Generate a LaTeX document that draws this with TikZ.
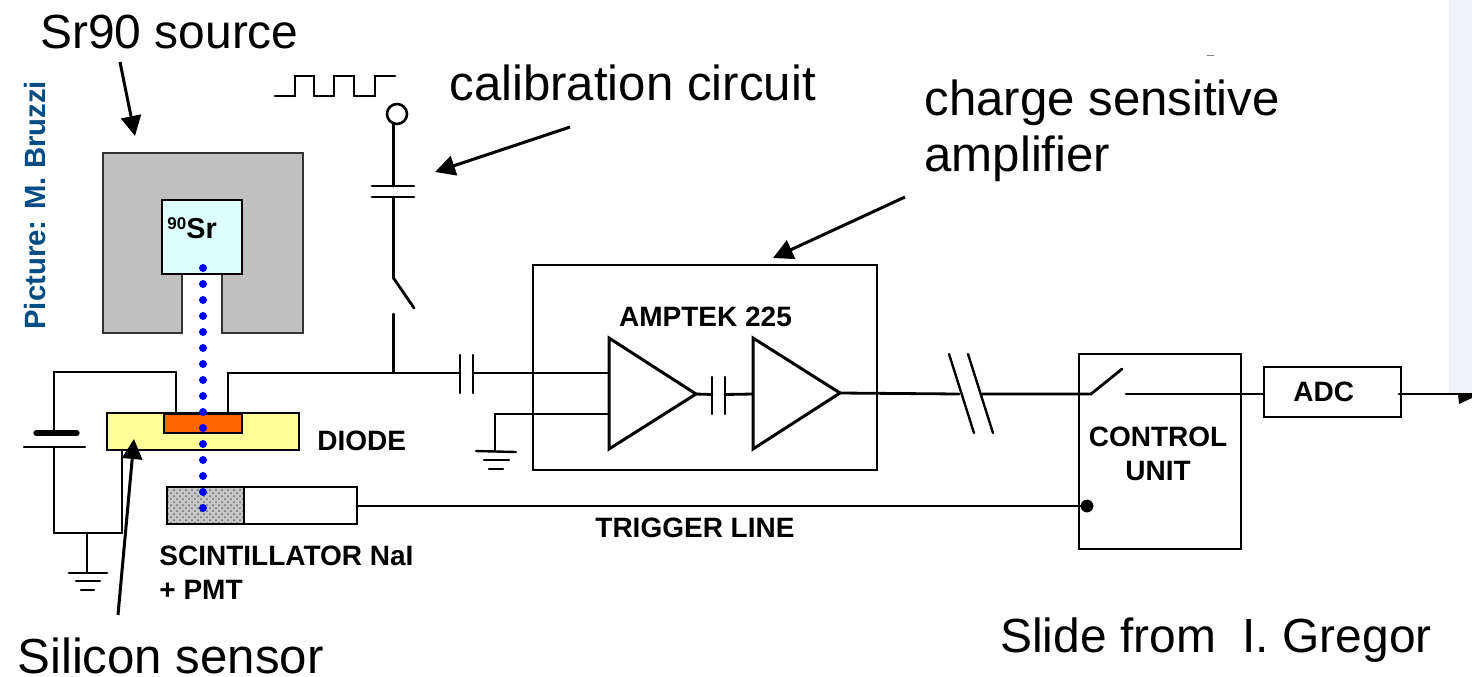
\documentclass[tikz,border=0pt]{standalone}
\usepackage{fontspec}
\setmainfont{Liberation Sans}
\usetikzlibrary{arrows.meta,patterns}
\definecolor{panel}{HTML}{F0F1F7}
\definecolor{shield}{HTML}{C0C0C0}
\definecolor{srcfill}{HTML}{DDFFFF}
\definecolor{diodefill}{HTML}{FFFF99}
\definecolor{implant}{HTML}{FF6600}
\definecolor{credit}{HTML}{004C84}
\tikzset{
  wire/.style={draw=black,line width=1.4pt,line cap=round,line join=miter},
  boxnode/.style={draw=black,line width=1.35pt,inner sep=0pt,outer sep=0pt},
  big/.style={inner sep=0pt,anchor=base west,font=\fontsize{24.6pt}{27pt}\selectfont,text=black},
  bigb/.style={inner sep=0pt,anchor=base west,font=\fontsize{23.95pt}{27pt}\selectfont,text=black},
  lab/.style={inner sep=0pt,anchor=base west,font=\fontsize{14pt}{16pt}\selectfont\bfseries,text=black},
  labc/.style={inner sep=0pt,anchor=base,font=\fontsize{14pt}{16pt}\selectfont\bfseries,text=black},
  pointer/.style={draw=black,line width=1.5pt,-{Triangle[length=10pt,width=10pt]}},
  beamdot/.style={circle,fill=blue,inner sep=0pt,minimum size=4pt},
  bar/.style={draw=black,line width=1.2pt,line cap=round},
  amp/.style={draw=black,line width=1.5pt,line join=miter}
}
\begin{document}
\begin{tikzpicture}[x=0.5pt,y=-0.5pt]
\useasboundingbox (0,0) rectangle (1472,676);
\fill[white] (0,0) rectangle (1472,676);
\fill[panel] (1449,0) rectangle (1472,394);
\draw[gray,line width=0.5pt] (1207,55) -- (1214,55);

% source and shield
\draw[fill=shield,draw=black!80,line width=1.35pt] (103,153) -- (303,153) -- (303,333) -- (222,333) -- (222,274) -- (182,274) -- (182,333) -- (103,333) -- cycle;
\node[boxnode,fill=srcfill,minimum width=40pt,minimum height=37pt] (src) at (202,237) {};
\node[inner sep=0pt,anchor=base west] (srlabel) at (167,238) {\raisebox{4.2pt}{\fontsize{8.5pt}{9pt}\selectfont\bfseries 90}\fontsize{14.4pt}{16pt}\selectfont\bfseries Sr};

% diode
\node[boxnode,fill=diodefill,minimum width=96pt,minimum height=18.5pt] (diode) at (203,431.5) {};
\node[boxnode,fill=implant,minimum width=39pt,minimum height=9.5pt] (impl) at (203,423.5) {};
\node[lab] (diodelabel) at (317,450) {DIODE};

% scintillator
\node[boxnode,fill=white,minimum width=95pt,minimum height=18.5pt] (pmt) at (262,505.5) {};
\fill[gray!45] (167,487) rectangle (244,524);
\fill[pattern=crosshatch dots,pattern color=gray!85!black] (167,487) rectangle (244,524);
\node[boxnode,minimum width=38.5pt,minimum height=18.5pt] (scint) at (205.5,505.5) {};
\node[boxnode,minimum width=95pt,minimum height=18.5pt] (pmtframe) at (262,505.5) {};
\node[lab] (scintlabel) at (159,565) {SCINTILLATOR NaI};
\node[lab] (pmtlabel) at (159,599) {+ PMT};

% beam
\foreach \i in {0,...,15} {\node[beamdot] (beam\i) at (203,{268+16*\i}) {};}

% bias circuit
\coordinate (bt) at (54,372);
\coordinate (ntop) at (176,372);
\coordinate (nd) at (176,413);
\coordinate (pl1) at (54,433);
\coordinate (pl2) at (54,447);
\coordinate (bb) at (54,533);
\coordinate (gj) at (87,533);
\coordinate (br) at (122,533);
\coordinate (dl) at (122,450);
\coordinate (g1) at (87,572);
\draw[wire] (nd) -- (ntop) -- (bt) -- (pl1);
\draw[draw=black,line width=2.6pt,line cap=round] (36,433) -- (77,433);
\draw[bar] (24,447) -- (85,447);
\draw[wire] (pl2) -- (bb) -- (br) -- (dl);
\draw[wire] (gj) -- (g1);
\draw[bar] (69,573) -- (107,573);
\draw[bar] (76,581) -- (100,581);
\draw[bar] (81,590) -- (94,590);

% signal line
\coordinate (nr) at (228,413);
\coordinate (sigc) at (228,373);
\coordinate (junc) at (393.5,373);
\coordinate (c1l) at (460,373);
\coordinate (c1r) at (473,373);
\draw[wire] (nr) -- (sigc) -- (junc) -- (c1l);
\draw[bar] (460,355) -- (460,393);
\draw[bar] (473,355) -- (473,393);

% calibration branch
\draw[wire,line join=miter] (275,96) -- (295,96) -- (295,76) -- (314,76) -- (314,96) -- (334,96) -- (334,76) -- (354,76) -- (354,96) -- (375,96) -- (375,76) -- (395,76);
\node[draw=black,circle,line width=1.3pt,minimum size=10pt,inner sep=0pt] (calin) at (397,114) {};
\coordinate (c2t) at (393.5,186);
\coordinate (c2b) at (393.5,197);
\coordinate (sw1) at (393.5,278);
\coordinate (sw2) at (414,308);
\coordinate (sw3) at (393.5,314);
\draw[wire] (393.5,124) -- (c2t);
\draw[bar,line width=1.4pt] (372,186) -- (414,186);
\draw[bar,line width=1.4pt] (372,197) -- (414,197);
\draw[wire] (c2b) -- (sw1) -- (sw2);
\draw[wire] (sw3) -- (junc);

% amplifier
\node[boxnode,minimum width=172pt,minimum height=102.5pt] (ampbox) at (705,367.5) {};
\node[labc] (amplabel) at (705.5,326) {AMPTEK 225};
\coordinate (a1i) at (609,373);
\coordinate (a1g) at (609,414);
\coordinate (a1o) at (696,394);
\coordinate (a2i) at (753,394);
\coordinate (a2o) at (840,393);
\coordinate (gnd2) at (495,414);
\coordinate (gnd2b) at (495,451);
\draw[amp] (609,338) -- (609,449) -- (a1o) -- cycle;
\draw[amp] (753,338) -- (753,449) -- (a2o) -- cycle;
\draw[wire] (c1r) -- (a1i);
\draw[wire] (a1g) -- (gnd2) -- (gnd2b);
\draw[bar] (476,451) -- (516,452);
\draw[bar] (484,460) -- (509,460);
\draw[bar] (489,469) -- (503,469);
\draw[wire] (a1o) -- (712,394.5);
\draw[bar] (712,377) -- (712,414);
\draw[bar] (725,377) -- (725,414);
\draw[wire] (725,394.5) -- (a2i);

% output, break, control unit
\coordinate (br1) at (959,394);
\coordinate (br2) at (982,394);
\draw[wire] (a2o) -- (br1);
\draw[bar] (949,354) -- (974,433);
\draw[bar] (968,354) -- (993,433);
\node[boxnode,minimum width=81pt,minimum height=97.5pt] (ctrl) at (1160,451.5) {};
\node[labc] (ctrl1) at (1158,446) {CONTROL};
\node[labc] (ctrl2) at (1158,480) {UNIT};
\coordinate (s1) at (1091,394);
\coordinate (s2) at (1122,369);
\coordinate (s3) at (1126,394);
\draw[wire] (br2) -- (s1) -- (s2);
\node[boxnode,minimum width=68.5pt,minimum height=25pt] (adc) at (1332.5,392) {};
\node[lab] (adclabel) at (1293,401) {ADC};
\draw[wire] (s3) -- (1264,394);
\coordinate (outend) at (1472,394);
\draw[wire] (1399,394) -- (outend);
\fill[black] (1458,394) -- (1472,394) -- (1472,398) -- (1459,404) -- cycle;

% trigger
\node[circle,fill=black,minimum size=6.4pt,inner sep=0pt] (trigdot) at (1087,506) {};
\draw[wire] (357,506) -- (trigdot.center);
\node[lab] (triglabel) at (595,537) {TRIGGER LINE};

% annotation labels
\node[bigb] (t1) at (40,48) {Sr90 source};
\node[big] (t2) at (449,100) {calibration circuit};
\node[big] (t3) at (924,115) {charge sensitive};
\node[big] (t4) at (924,171) {amplifier};
\node[big] (t5) at (17,673) {Silicon sensor};
\node[bigb] (t6) at (1000,652) {Slide from\ \ I. Gregor};
\node[rotate=90,inner sep=0pt,anchor=base west,text=credit,font=\fontsize{14.65pt}{16pt}\selectfont\bfseries] (t7) at (46,330) {Picture: M. Bruzzi};

% pointers
\coordinate (p1a) at (120,62);
\coordinate (p1b) at (135,136);
\coordinate (p2a) at (570,127);
\coordinate (p2b) at (435,172);
\coordinate (p3a) at (905,197);
\coordinate (p3b) at (773,258);
\coordinate (p4a) at (118,615);
\coordinate (p4b) at (134,439);
\draw[pointer] (p1a) -- (p1b);
\draw[pointer] (p2a) -- (p2b);
\draw[pointer] (p3a) -- (p3b);
\draw[pointer] (p4a) -- (p4b);
\end{tikzpicture}
\end{document}
